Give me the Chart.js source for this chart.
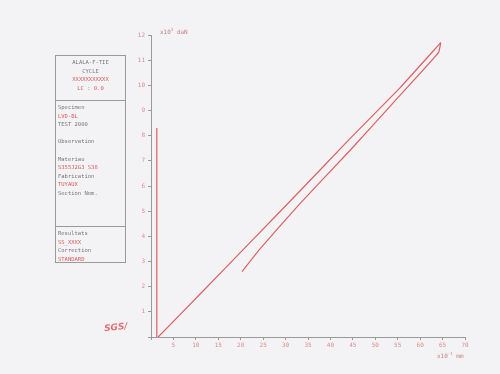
<!DOCTYPE html>
<html>
<head>
<meta charset="utf-8">
<script src="https://cdn.jsdelivr.net/npm/chart.js@4.4.0/dist/chart.umd.min.js"></script>
<style>
  body { margin: 0; background: #f3f3f5; }
  #wrap { position: relative; width: 500px; height: 374px; }
  #c { position: absolute; left: 0; top: 0; }
  .box { position: absolute; left: 55px; width: 71px; border: 1px solid #9a9a9a;
         font-family: "DejaVu Sans Mono", monospace; font-size: 5.5px; line-height: 8.6px;
         color: #777; padding: 2px 2px; box-sizing: border-box; }
  .r { color: #d85a5a; }
  .c { text-align: center; }
  .unit { position: absolute; font-family: "DejaVu Sans Mono", monospace; font-size: 6px; color: #c98080; }
  .logo { position: absolute; left: 104px; top: 322px; font-family: "DejaVu Sans", sans-serif;
          font-size: 9px; font-style: italic; font-weight: bold; color: #e07070; transform: rotate(-6deg); }
</style>
</head>
<body>
<div id="wrap">
  <canvas id="c" width="500" height="374"></canvas>
  <div class="box" style="top:55px;height:46px;">
    <div class="c">ALALA-F-TIE</div>
    <div class="c">CYCLE</div>
    <div class="c r">XXXXXXXXXXX</div>
    <div class="c r">LC : 0.0</div>
  </div>
  <div class="box" style="top:100px;height:127px;">
    <div>Specimen</div>
    <div class="r">LVD-BL</div>
    <div>TEST 2000</div>
    <div>&nbsp;</div>
    <div>Observation</div>
    <div>&nbsp;</div>
    <div>Materiau</div>
    <div class="r">S355J2G3 S38</div>
    <div>Fabrication</div>
    <div class="r">TUYAUX</div>
    <div>Section Nom.</div>
  </div>
  <div class="box" style="top:226px;height:37px;">
    <div>Resultats</div>
    <div class="r">SS_XXXX</div>
    <div>Correction</div>
    <div class="r">STANDARD</div>
  </div>
  <div class="unit" style="left:160px;top:27px;">x10<sup style="font-size:4px">3</sup> daN</div>
  <div class="unit" style="left:437px;top:351px;">x10<sup style="font-size:4px">-1</sup> mm</div>
  <div class="logo">SGS/</div>
</div>
<script>
// valeurs (x en 10^-1 mm, y en 10^3 daN)
var vert_x = [1.3, 1.3];
var vert_y = [0, 8.3];

var charge_x = [1.6, 10.9, 22.0, 33.2, 44.3, 55.5, 64.6];
var charge_y = [0, 1.7, 3.74, 5.8, 7.87, 9.9, 11.7];

var decharge_x = [64.6, 64.1, 55.5, 44.3, 33.2, 24.3, 20.3];
var decharge_y = [11.7, 11.3, 9.6, 7.4, 5.3, 3.5, 2.6];

var x_ticks = [0, 5, 10, 15, 20, 25, 30, 35, 40, 45, 50, 55, 60, 65, 70];
var y_ticks = [0, 1, 2, 3, 4, 5, 6, 7, 8, 9, 10, 11, 12];

function points(xs, ys) {
    var p = [];
    for (var i = 0; i < xs.length; i++) {
        p.push({x: xs[i], y: ys[i]});
    }
    return p;
}

var rouge = '#de6060';
function serie(xs, ys) {
    return {
        data: points(xs, ys),
        showLine: true,
        borderColor: rouge,
        borderWidth: 1.2,
        pointRadius: 0,
        tension: 0.1,
        fill: false
    };
}

const ctx = document.getElementById('c');
new Chart(ctx, {
    type: 'scatter',
    data: {
        datasets: [
            serie(vert_x, vert_y),
            serie(charge_x, charge_y),
            serie(decharge_x, decharge_y)
        ]
    },
    options: {
        responsive: false,
        animation: false,
        layout: { padding: { left: 0, right: 35, top: 35, bottom: 0 } },
        plugins: { legend: { display: false }, tooltip: { enabled: false } },
        scales: {
            x: {
                type: 'linear',
                min: 0,
                max: 70,
                afterBuildTicks: function(s) { s.ticks = x_ticks.map(function(v) { return {value: v}; }); },
                afterFit: function(s) { s.height = 37; },
                border: { color: '#9a9a9a', width: 1 },
                grid: { drawOnChartArea: false, tickLength: 3, color: '#9a9a9a' },
                ticks: {
                    color: '#e08a8a',
                    font: { family: 'DejaVu Sans Mono', size: 6 },
                    padding: 2,
                    maxRotation: 0,
                    callback: function(v) { return v == 0 ? '' : v; }
                }
            },
            y: {
                type: 'linear',
                min: 0,
                max: 12,
                afterBuildTicks: function(s) { s.ticks = y_ticks.map(function(v) { return {value: v}; }); },
                afterFit: function(s) { s.width = 151; },
                border: { color: '#9a9a9a', width: 1 },
                grid: { drawOnChartArea: false, tickLength: 3, color: '#9a9a9a' },
                ticks: {
                    color: '#e08a8a',
                    font: { family: 'DejaVu Sans Mono', size: 6 },
                    padding: 3,
                    callback: function(v) { return v == 0 ? '' : v; }
                }
            }
        }
    }
});
</script>
</body>
</html>
